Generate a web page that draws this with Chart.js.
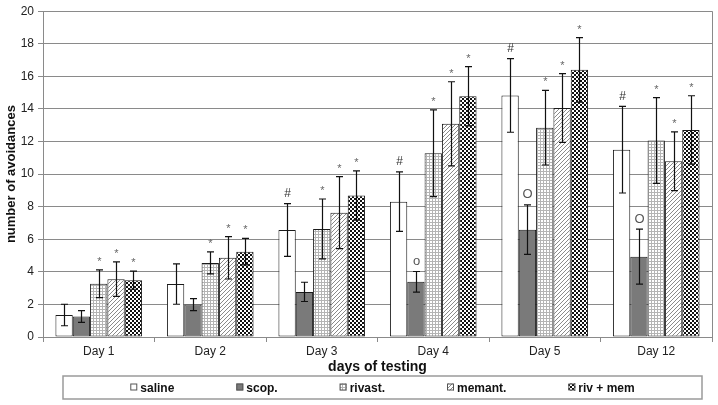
<!DOCTYPE html>
<html><head><meta charset="utf-8">
<script src="https://cdn.jsdelivr.net/npm/chart.js@4/dist/chart.umd.min.js"></script>
<style>html,body{margin:0;padding:0;background:#fff}#wrap{width:718px;height:405px}</style>
</head><body><div id="wrap"><canvas id="c" width="718" height="405"></canvas></div>
<script>
const days = ['Day 1', 'Day 2', 'Day 3', 'Day 4', 'Day 5', 'Day 12'];
const seriesNames = ['saline', 'scop.', 'rivast.', 'memant.', 'riv + mem'];
const saline = [1.35, 3.25, 6.57, 8.31, 14.83, 11.5];
const salineErr = [0.66, 1.24, 1.62, 1.83, 2.26, 2.66];
const scop = [1.26, 1.99, 2.77, 3.39, 6.59, 4.93];
const scopErr = [0.36, 0.37, 0.59, 0.63, 1.52, 1.69];
const rivast = [3.27, 4.55, 6.63, 11.28, 12.85, 12.06];
const rivastErr = [0.85, 0.68, 1.84, 2.66, 2.29, 2.63];
const memant = [3.55, 4.86, 7.63, 13.09, 14.06, 10.79];
const memantErr = [1.06, 1.3, 2.21, 2.58, 2.11, 1.8];
const rivMem = [3.49, 5.24, 8.69, 14.78, 16.4, 12.71];
const rivMemErr = [0.56, 0.81, 1.51, 1.82, 1.98, 2.1];
const salineMark = ['', '', '#', '#', '#', '#'];
const scopMark = ['', '', '', 'o', 'O', 'O'];
const rivastMark = ['*', '*', '*', '*', '*', '*'];
const memantMark = ['*', '*', '*', '*', '*', '*'];
const rivMemMark = ['*', '*', '*', '*', '*', '*'];
const yTicks = [0, 2, 4, 6, 8, 10, 12, 14, 16, 18, 20];

function tile(w, h, draw) {
  const c = document.createElement('canvas'); c.width = w; c.height = h;
  const g = c.getContext('2d'); g.fillStyle = '#fff'; g.fillRect(0, 0, w, h); draw(g);
  return document.getElementById('c').getContext('2d').createPattern(c, 'repeat');
}
const gridPat = tile(3, 3, g => { g.fillStyle = '#b4b4b4'; g.fillRect(0, 0, 3, 1); g.fillRect(0, 0, 1, 3); });
const diagPat = tile(4, 4, g => { g.fillStyle = '#8a8a8a'; for (let i = 0; i < 4; i++) g.fillRect(i, 3 - i, 1, 1); });
const checkPat = tile(4, 4, g => { g.fillStyle = '#111'; g.fillRect(0, 0, 2, 2); g.fillRect(2, 2, 2, 2); });

const FONT = "'Liberation Sans', Arial, sans-serif";
const mk = (label, data, err, marks, bg, markColor, markFont) => ({
  label, data, err, marks, markColor, markFont,
  backgroundColor: bg, borderColor: '#1a1a1a', borderWidth: 1, borderSkipped: false,
  categoryPercentage: 0.777, barPercentage: 1.0
});
const datasets = [
  mk(seriesNames[0], saline, salineErr, salineMark, '#ffffff', '#333', '12px ' + FONT),
  mk(seriesNames[1], scop, scopErr, scopMark, '#7a7a7a', '#555', '13px ' + FONT),
  mk(seriesNames[2], rivast, rivastErr, rivastMark, gridPat, '#666', '11px ' + FONT),
  mk(seriesNames[3], memant, memantErr, memantMark, diagPat, '#666', '11px ' + FONT),
  mk(seriesNames[4], rivMem, rivMemErr, rivMemMark, checkPat, '#666', '11px ' + FONT)
];

const extras = {
  id: 'extras',
  afterDatasetsDraw(chart) {
    const ctx = chart.ctx, ys = chart.scales.y, ca = chart.chartArea;
    ctx.save();
    ctx.strokeStyle = '#8a8a8a'; ctx.lineWidth = 1;
    ctx.beginPath(); ctx.moveTo(Math.round(ca.right) + 0.5, ca.top); ctx.lineTo(Math.round(ca.right) + 0.5, ca.bottom); ctx.stroke();
    chart.data.datasets.forEach((ds, di) => {
      const meta = chart.getDatasetMeta(di);
      meta.data.forEach((el, i) => {
        const v = ds.data[i], e = ds.err[i];
        const x = Math.round(el.x) + 0.5;
        const yt = ys.getPixelForValue(v + e), yb = ys.getPixelForValue(v - e);
        ctx.strokeStyle = '#111'; ctx.lineWidth = 1.2;
        ctx.beginPath();
        ctx.moveTo(x, yt); ctx.lineTo(x, yb);
        ctx.moveTo(x - 3.5, yt); ctx.lineTo(x + 3.5, yt);
        ctx.moveTo(x - 3.5, yb); ctx.lineTo(x + 3.5, yb);
        ctx.stroke();
        const m = ds.marks[i];
        if (m) {
          ctx.fillStyle = ds.markColor; ctx.font = ds.markFont;
          ctx.textAlign = 'center'; ctx.textBaseline = 'middle';
          ctx.fillText(m, x, yt - (m === '*' ? 8 : 10));
        }
      });
    });
    ctx.restore();
  },
  afterDraw(chart) {
    const ctx = chart.ctx;
    ctx.save();
    const L = 63, R = 702, T = 376, B = 399;
    ctx.strokeStyle = '#9a9a9a'; ctx.lineWidth = 1.5;
    ctx.strokeRect(L, T, R - L, B - T);
    ctx.font = 'bold 12px ' + FONT;
    const box = 7, gap = 3, pad = 62;
    const widths = chart.data.datasets.map(d => box + gap + ctx.measureText(d.label).width);
    const total = widths.reduce((a, b) => a + b, 0) + pad * (widths.length - 1);
    let x = (L + R) / 2 - total / 2;
    const cy = (T + B) / 2;
    chart.data.datasets.forEach((d, i) => {
      ctx.fillStyle = d.backgroundColor;
      ctx.fillRect(x, cy - 4, box, box);
      ctx.strokeStyle = '#555'; ctx.lineWidth = 1;
      ctx.strokeRect(x + 0.5, cy - 3.5, box - 1, box - 1);
      ctx.fillStyle = '#111'; ctx.textAlign = 'left'; ctx.textBaseline = 'middle';
      ctx.fillText(d.label, x + box + gap, cy + 1);
      x += widths[i] + pad;
    });
    ctx.restore();
  }
};

new Chart(document.getElementById('c'), {
  type: 'bar',
  data: { labels: days, datasets },
  options: {
    responsive: false, animation: false,
    layout: { padding: { top: 8, right: 6, bottom: 28, left: 0 } },
    plugins: { legend: { display: false }, tooltip: { enabled: false } },
    scales: {
      x: {
        grid: { display: true, drawOnChartArea: false, offset: true, tickLength: 5, color: '#8a8a8a' },
        border: { color: '#8a8a8a', width: 1 },
        ticks: { color: '#222', font: { family: FONT, size: 12 }, padding: 2 },
        title: { display: true, text: 'days of testing', color: '#111', font: { family: FONT, size: 14, weight: 'bold' }, padding: { top: 0, bottom: 1 } },
        afterFit(s) { s.height = 40; }
      },
      y: {
        min: 0, max: 20,
        afterBuildTicks(s) { s.ticks = yTicks.map(v => ({ value: v })); },
        grid: { color: '#8a8a8a', lineWidth: 1, tickLength: 5 },
        border: { color: '#8a8a8a', width: 1 },
        ticks: { color: '#222', font: { family: FONT, size: 12 }, padding: 4 },
        title: { display: true, text: 'number of avoidances', color: '#111', font: { family: FONT, size: 13, weight: 'bold' }, padding: { top: 4, bottom: 0 } },
        afterFit(s) { s.width = 43; }
      }
    }
  },
  plugins: [extras]
});
</script></body></html>
